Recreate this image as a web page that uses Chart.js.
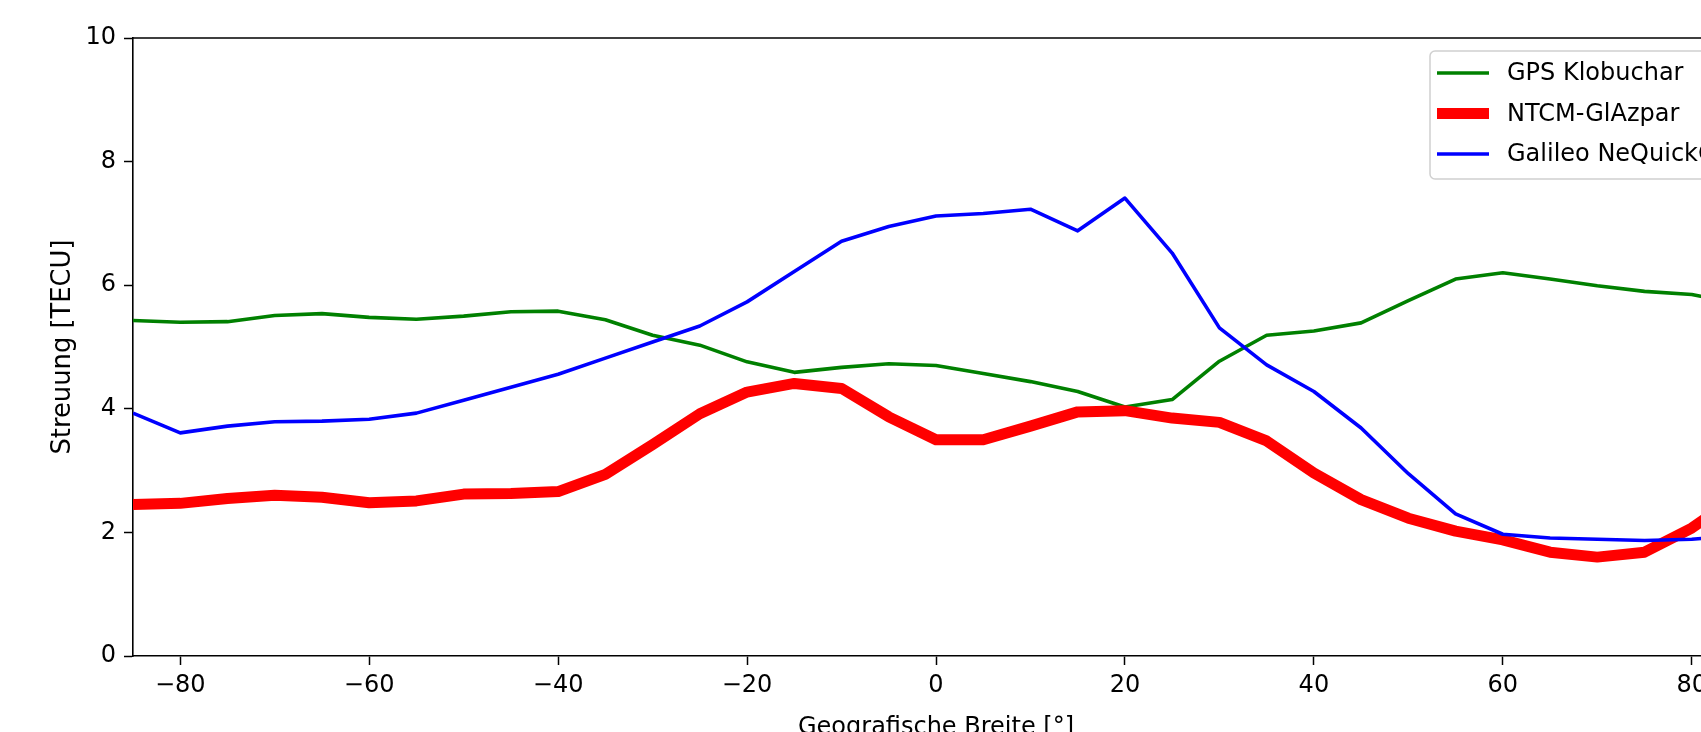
<!DOCTYPE html>
<html>
<head>
<meta charset="utf-8">
<script src="https://cdn.jsdelivr.net/npm/chart.js@4.4.1/dist/chart.umd.min.js"></script>
<style>
  html, body { margin: 0; padding: 0; overflow: hidden; background: #fff; }
  #wrap { position: absolute; left: 0; top: 0; width: 1760px; height: 760px; }
</style>
</head>
<body>
<div id="wrap"><canvas id="chart"></canvas></div>
<script>
const latitudes = [-85, -80, -75, -70, -65, -60, -55, -50, -45, -40, -35, -30, -25, -20, -15, -10, -5,
  0, 5, 10, 15, 20, 25, 30, 35, 40, 45, 50, 55, 60, 65, 70, 75, 80, 85];
const gpsKlobuchar = [5.43, 5.40, 5.41, 5.51, 5.54, 5.48, 5.45, 5.50, 5.57, 5.58, 5.44, 5.19, 5.03, 4.76, 4.59, 4.67, 4.73,
  4.70, 4.57, 4.44, 4.28, 4.03, 4.15, 4.77, 5.19, 5.26, 5.39, 5.75, 6.10, 6.20, 6.10, 5.99, 5.90, 5.85, 5.70];
const ntcmGlAzpar = [2.45, 2.47, 2.55, 2.60, 2.57, 2.48, 2.51, 2.62, 2.63, 2.66, 2.94, 3.42, 3.92, 4.27, 4.41, 4.33, 3.87,
  3.50, 3.50, 3.72, 3.95, 3.97, 3.85, 3.78, 3.48, 2.96, 2.53, 2.23, 2.02, 1.88, 1.68, 1.60, 1.68, 2.07, 2.60];
const galileoNeQuick = [3.93, 3.61, 3.72, 3.79, 3.80, 3.83, 3.93, 4.14, 4.35, 4.56, 4.82, 5.08, 5.34, 5.73, 6.22, 6.71, 6.95,
  7.12, 7.16, 7.23, 6.88, 7.41, 6.52, 5.31, 4.71, 4.28, 3.69, 2.95, 2.30, 1.97, 1.91, 1.89, 1.87, 1.89, 1.95];
const xTicks = [-80, -60, -40, -20, 0, 20, 40, 60, 80];
const yTicks = [0, 2, 4, 6, 8, 10];

const FONT = 'DejaVu Sans';

function points(values) {
  return latitudes.map((lat, i) => ({ x: lat, y: values[i] }));
}

// matplotlib-style legend inside the axes, plus the top spine
const framePlugin = {
  id: 'frame',
  afterDatasetsDraw(chart) {
    const ctx = chart.ctx;
    const area = chart.chartArea;
    ctx.save();
    ctx.strokeStyle = '#000';
    ctx.lineWidth = 1.6;
    ctx.beginPath();
    ctx.moveTo(area.left, area.top);
    ctx.lineTo(area.right, area.top);
    ctx.lineTo(area.right, area.bottom);
    ctx.stroke();

    const x0 = 1430, y0 = 51, w = 299, h = 128, r = 5;
    ctx.beginPath();
    ctx.roundRect(x0, y0, w, h, r);
    ctx.fillStyle = 'rgba(255,255,255,0.8)';
    ctx.fill();
    ctx.strokeStyle = '#d0d0d0';
    ctx.lineWidth = 1.5;
    ctx.stroke();

    ctx.font = '24px "' + FONT + '"';
    ctx.textBaseline = 'middle';
    ctx.textAlign = 'left';
    chart.data.datasets.forEach((ds, i) => {
      const y = 73 + i * 40.5;
      ctx.strokeStyle = ds.borderColor;
      ctx.lineWidth = ds.borderWidth;
      ctx.beginPath();
      ctx.moveTo(1437, y);
      ctx.lineTo(1489, y);
      ctx.stroke();
      ctx.fillStyle = '#000';
      ctx.fillText(ds.label, 1507, y + 1);
    });
    ctx.restore();
  }
};

const ctx = document.getElementById('chart').getContext('2d');
new Chart(ctx, {
  type: 'line',
  data: {
    datasets: [
      { label: 'GPS Klobuchar', data: points(gpsKlobuchar), borderColor: '#008000', borderWidth: 3.6, order: 3 },
      { label: 'NTCM-GlAzpar', data: points(ntcmGlAzpar), borderColor: '#ff0000', borderWidth: 11, order: 2 },
      { label: 'Galileo NeQuickG', data: points(galileoNeQuick), borderColor: '#0000ff', borderWidth: 3.6, order: 1 }
    ]
  },
  options: {
    responsive: true,
    maintainAspectRatio: false,
    animation: false,
    events: [],
    elements: { point: { radius: 0 }, line: { tension: 0, borderJoinStyle: 'round', borderCapStyle: 'butt' } },
    layout: { padding: { top: 38, right: 21, left: 0, bottom: 0 } },
    plugins: { legend: { display: false }, tooltip: { enabled: false } },
    scales: {
      x: {
        type: 'linear',
        min: -85,
        max: 85,
        afterBuildTicks: scale => { scale.ticks = xTicks.map(v => ({ value: v })); },
        afterFit: scale => { scale.height = 104; },
        ticks: {
          color: '#000',
          font: { family: FONT, size: 24 },
          padding: 6,
          maxRotation: 0,
          callback: v => (v < 0 ? '\u2212' + Math.abs(v) : String(v))
        },
        grid: { drawOnChartArea: false, drawTicks: true, tickLength: 9, tickColor: '#000', tickWidth: 1.5 },
        border: { display: true, color: '#000', width: 1.6 },
        title: {
          display: true,
          text: 'Geografische Breite [°]',
          color: '#000',
          font: { family: FONT, size: 24 },
          padding: { top: 0, bottom: 17.5 }
        }
      },
      y: {
        type: 'linear',
        min: 0,
        max: 10,
        afterBuildTicks: scale => { scale.ticks = yTicks.map(v => ({ value: v })); },
        afterFit: scale => { scale.width = 133; },
        ticks: { color: '#000', font: { family: FONT, size: 24 }, padding: 8 },
        grid: { drawOnChartArea: false, drawTicks: true, tickLength: 9, tickColor: '#000', tickWidth: 1.5 },
        border: { display: true, color: '#000', width: 1.6 },
        title: {
          display: true,
          text: 'Streuung [TECU]',
          color: '#000',
          font: { family: FONT, size: 25.8 },
          padding: { top: 48, bottom: 0 }
        }
      }
    }
  },
  plugins: [framePlugin]
});
</script>
</body>
</html>
